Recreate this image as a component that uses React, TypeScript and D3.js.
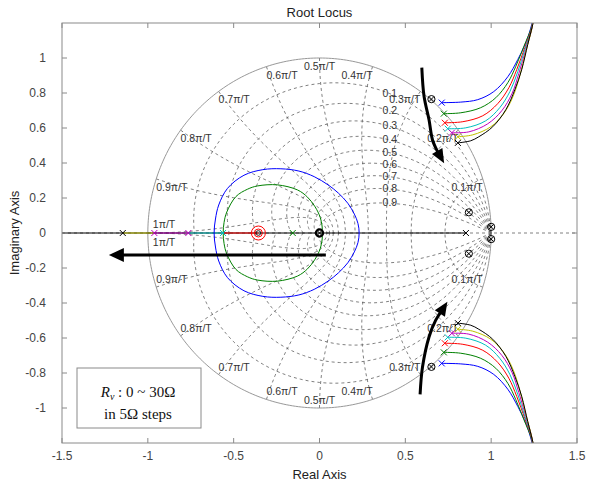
import React, { useEffect, useRef } from 'react';
import * as d3 from 'd3';

type Pt = [number, number];

const xTicks = [-1.5, -1, -0.5, 0, 0.5, 1, 1.5];
const yTicks = [-1, -0.8, -0.6, -0.4, -0.2, 0, 0.2, 0.4, 0.6, 0.8, 1];

// zgrid: damping ratios and natural frequencies (multiples of pi/T)
const zetaValues = [0.1, 0.2, 0.3, 0.4, 0.5, 0.6, 0.7, 0.8, 0.9];
const wnValues = [0.1, 0.2, 0.3, 0.4, 0.5, 0.6, 0.7, 0.8, 0.9, 1];
const wnLabels = ['0.1π/T', '0.2π/T', '0.3π/T', '0.4π/T', '0.5π/T', '0.6π/T', '0.7π/T', '0.8π/T', '0.9π/T', '1π/T'];

// Rv = 0, 5, ..., 30 ohm -> one locus each
const rvValues = [0, 5, 10, 15, 20, 25, 30];

// upper complex branches, pole first (lower half is the conjugate)
const branchRv0: Pt[] = [[0.712, 0.745], [0.823, 0.748], [0.922, 0.762], [1.015, 0.808], [1.097, 0.893], [1.155, 0.991], [1.202, 1.088], [1.236, 1.191], [1.245, 1.25]];
const branchRv5: Pt[] = [[0.724, 0.682], [0.823, 0.687], [0.939, 0.716], [1.027, 0.773], [1.097, 0.859], [1.143, 0.951], [1.19, 1.065], [1.236, 1.18], [1.247, 1.25]];
const branchRv10: Pt[] = [[0.73, 0.63], [0.835, 0.636], [0.951, 0.67], [1.038, 0.739], [1.103, 0.83], [1.149, 0.934], [1.196, 1.06], [1.236, 1.174], [1.248, 1.25]];
const branchRv15: Pt[] = [[0.747, 0.596], [0.852, 0.601], [0.968, 0.641], [1.05, 0.716], [1.109, 0.808], [1.155, 0.922], [1.196, 1.048], [1.236, 1.168], [1.249, 1.25]];
const branchRv20: Pt[] = [[0.771, 0.573], [0.87, 0.578], [0.98, 0.624], [1.062, 0.699], [1.121, 0.796], [1.161, 0.911], [1.202, 1.048], [1.236, 1.163], [1.25, 1.25]];
const branchRv25: Pt[] = [[0.806, 0.55], [0.893, 0.561], [0.998, 0.607], [1.073, 0.682], [1.127, 0.779], [1.167, 0.899], [1.202, 1.037], [1.236, 1.163], [1.252, 1.25]];
const branchRv30: Pt[] = [[0.806, 0.515], [0.881, 0.527], [0.928, 0.55], [1.009, 0.607], [1.085, 0.704], [1.138, 0.819], [1.178, 0.934], [1.213, 1.077], [1.242, 1.191], [1.255, 1.25]];
const complexBranches = [branchRv0, branchRv5, branchRv10, branchRv15, branchRv20, branchRv25, branchRv30];

// breakaway loops around the real axis (upper half, left to right)
const loopRv0: Pt[] = [[-0.614, 0], [-0.606, 0.08], [-0.587, 0.16], [-0.536, 0.255], [-0.44, 0.33], [-0.33, 0.362], [-0.225, 0.367], [-0.12, 0.354], [-0.031, 0.322], [0.05, 0.275], [0.11, 0.228], [0.165, 0.17], [0.203, 0.108], [0.224, 0.055], [0.231, 0]];
const loopRv5: Pt[] = [[-0.561, 0], [-0.556, 0.06], [-0.54, 0.12], [-0.487, 0.208], [-0.42, 0.25], [-0.361, 0.269], [-0.245, 0.275], [-0.128, 0.246], [-0.07, 0.205], [-0.026, 0.15], [0.004, 0.09], [0.015, 0.04], [0.017, 0]];
const loops: [Pt[], number][] = [[loopRv0, 0], [loopRv5, 1]];

// real-axis locus pieces: [from, to, series]
const realAxisSegments: [number, number, number][] = [
  [-1.5, 0.853, 6],
  [-1.146, -0.962, 5],
  [-0.962, -0.764, 4],
  [-0.764, -0.562, 3],
  [-0.562, -0.356, 2],
];
// real poles: [re, series]
const realPoles: [number, number][] = [[-1.146, 6], [-0.962, 4], [-0.764, 4], [-0.562, 3], [-0.156, 1], [0.853, 6]];
// zeros (upper half, conjugates added)
const complexZeros: Pt[] = [[0.652, 0.765], [0.87, 0.118], [1.0, 0.035]];
const originZero = 0;
const redZero = -0.356;

// annotation arrows (data coords, tip last)
const arrowUpper: Pt[] = [[0.596, 0.945], [0.609, 0.781], [0.638, 0.647], [0.658, 0.533], [0.687, 0.466], [0.726, 0.399]];
const arrowLower: Pt[] = [[0.586, -0.922], [0.6, -0.766], [0.638, -0.594], [0.677, -0.498], [0.745, -0.393]];
const arrowLeft: Pt[] = [[0.037, -0.126], [-1.227, -0.126]];

const colors = ['#0000ff', '#008000', '#ff0000', '#00bfbf', '#bf00bf', '#bfbf00', '#000000'];

export default function App() {
  const ref = useRef<SVGSVGElement>(null);

  useEffect(() => {
    const svg = d3.select(ref.current);
    svg.selectAll('*').remove();

    const width = 594;
    const height = 488;
    const margin = { top: 23, right: 17, bottom: 45, left: 62 };
    const sans = 'Liberation Sans, Arial, sans-serif';

    const x = d3.scaleLinear().domain([-1.5, 1.5]).range([margin.left, width - margin.right]);
    const y = d3.scaleLinear().domain([-1.2, 1.2]).range([height - margin.bottom, margin.top]);
    const line = d3.line<Pt>().x(d => x(d[0])).y(d => y(d[1]));
    const smooth = d3.line<Pt>().x(d => x(d[0])).y(d => y(d[1])).curve(d3.curveCatmullRom);
    const conj = (pts: Pt[]): Pt[] => pts.map(([a, b]) => [a, -b]);

    svg.append('rect').attr('width', width).attr('height', height).attr('fill', '#fff');

    svg.append('defs').append('clipPath').attr('id', 'plotclip')
      .append('rect')
      .attr('x', margin.left).attr('y', margin.top)
      .attr('width', width - margin.left - margin.right)
      .attr('height', height - margin.top - margin.bottom);

    const g = svg.append('g').attr('clip-path', 'url(#plotclip)');

    // ---- zgrid ----
    const grid = g.append('g').attr('fill', 'none').attr('stroke', '#555')
      .attr('stroke-width', 0.75).attr('stroke-dasharray', '3,3');

    grid.append('path').attr('d', line([[-1.5, 0], [1.5, 0]]));

    zetaValues.forEach(z => {
      const m = z / Math.sqrt(1 - z * z);
      const pts: Pt[] = d3.range(0, 121).map(i => {
        const t = Math.PI * i / 120;
        const r = Math.exp(-m * t);
        return [r * Math.cos(t), r * Math.sin(t)];
      });
      grid.append('path').attr('d', line(pts));
      grid.append('path').attr('d', line(conj(pts)));
    });

    wnValues.forEach(f => {
      const wn = f * Math.PI;
      const pts: Pt[] = d3.range(0, 61).map(i => {
        const z = i / 60;
        const r = Math.exp(-z * wn);
        const a = wn * Math.sqrt(1 - z * z);
        return [r * Math.cos(a), r * Math.sin(a)];
      });
      grid.append('path').attr('d', line(pts));
      grid.append('path').attr('d', line(conj(pts)));
    });

    const circle: Pt[] = d3.range(0, 361).map(i => [Math.cos(i * Math.PI / 180), Math.sin(i * Math.PI / 180)]);
    g.append('path').attr('d', line(circle)).attr('fill', 'none').attr('stroke', '#8c8c8c').attr('stroke-width', 0.9);

    // grid labels
    const labels = g.append('g').attr('font-family', sans).attr('font-size', 10.5).attr('fill', '#333');
    wnValues.forEach((f, i) => {
      const a = f * Math.PI;
      const px = x(Math.cos(a));
      const anchor = f < 0.5 ? 'end' : f > 0.5 ? 'start' : 'middle';
      if (f === 1) {
        labels.append('text').attr('x', px + 5).attr('y', y(0) - 5).attr('text-anchor', 'start').text(wnLabels[i]);
        labels.append('text').attr('x', px + 5).attr('y', y(0) + 13).attr('text-anchor', 'start').text(wnLabels[i]);
        return;
      }
      labels.append('text').attr('x', px).attr('y', y(Math.sin(a)) + 12).attr('text-anchor', anchor).text(wnLabels[i]);
      labels.append('text').attr('x', px).attr('y', y(-Math.sin(a)) - 4).attr('text-anchor', anchor).text(wnLabels[i]);
    });
    zetaValues.forEach(z => {
      const m = z / Math.sqrt(1 - z * z);
      let lo = 0, hi = Math.PI / 2;
      for (let k = 0; k < 40; k++) {
        const t = (lo + hi) / 2;
        if (Math.exp(-m * t) * Math.cos(t) > 0.41) lo = t; else hi = t;
      }
      const r = Math.exp(-m * lo);
      labels.append('text')
        .attr('x', x(r * Math.cos(lo))).attr('y', y(r * Math.sin(lo)) + 3)
        .attr('text-anchor', 'middle').text(String(z));
    });

    // ---- root loci ----
    const loci = g.append('g').attr('fill', 'none').attr('stroke-width', 1);
    realAxisSegments.forEach(([a, b, s]) => {
      loci.append('path').attr('d', line([[a, 0], [b, 0]])).attr('stroke', colors[s]);
    });
    loops.forEach(([half, s]) => {
      const full = half.concat(conj(half.slice(1, -1)).reverse());
      const closed = d3.line<Pt>().x(d => x(d[0])).y(d => y(d[1])).curve(d3.curveCatmullRomClosed);
      loci.append('path').attr('d', closed(full)).attr('stroke', colors[s]);
    });
    complexBranches.forEach((pts, s) => {
      loci.append('path').attr('d', smooth(pts)).attr('stroke', colors[s]);
      loci.append('path').attr('d', smooth(conj(pts))).attr('stroke', colors[s]);
    });

    // markers
    const marks = g.append('g').attr('fill', 'none');
    const cross = (px: number, py: number, c: string, h = 3) => {
      marks.append('path')
        .attr('d', `M${px - h},${py - h}L${px + h},${py + h}M${px - h},${py + h}L${px + h},${py - h}`)
        .attr('stroke', c).attr('stroke-width', 1);
    };
    complexBranches.forEach((pts, s) => {
      cross(x(pts[0][0]), y(pts[0][1]), colors[s]);
      cross(x(pts[0][0]), y(-pts[0][1]), colors[s]);
    });
    realPoles.forEach(([re, s]) => cross(x(re), y(0), colors[s]));

    const zeroMark = (px: number, py: number, w = 1) => {
      marks.append('circle').attr('cx', px).attr('cy', py).attr('r', 3.6).attr('stroke', '#000').attr('stroke-width', w);
      cross(px, py, '#000', 2.4);
    };
    complexZeros.forEach(([a, b]) => {
      zeroMark(x(a), y(b));
      zeroMark(x(a), y(-b));
    });
    zeroMark(x(originZero), y(0), 2.2);
    marks.append('circle').attr('cx', x(redZero)).attr('cy', y(0)).attr('r', 7).attr('stroke', colors[2]).attr('stroke-width', 1);
    marks.append('circle').attr('cx', x(redZero)).attr('cy', y(0)).attr('r', 4).attr('stroke', colors[2]).attr('stroke-width', 1);
    marks.append('circle').attr('cx', x(redZero)).attr('cy', y(0)).attr('r', 2.3).attr('stroke', '#222').attr('stroke-width', 1);

    // ---- annotation arrows ----
    const arrow = (pts: Pt[], len: number, half: number) => {
      const px = pts.map(([a, b]) => [x(a), y(b)]);
      const tip = px[px.length - 1];
      const prev = px[px.length - 2];
      const dx = tip[0] - prev[0], dy = tip[1] - prev[1];
      const n = Math.hypot(dx, dy);
      const ux = dx / n, uy = dy / n;
      const bx = tip[0] - ux * len, by = tip[1] - uy * len;
      const body = pts.slice(0, -1).concat([[x.invert(bx + ux * 3), y.invert(by + uy * 3)]]);
      const path = pts.length > 2 ? smooth(body) : line(body);
      g.append('path').attr('d', path).attr('fill', 'none').attr('stroke', '#000').attr('stroke-width', 3);
      g.append('path')
        .attr('d', `M${tip[0]},${tip[1]}L${bx - uy * half},${by + ux * half}L${bx + uy * half},${by - ux * half}Z`)
        .attr('fill', '#000');
    };
    arrow(arrowUpper, 14, 6);
    arrow(arrowLower, 14, 6);
    arrow(arrowLeft, 15, 7);

    // ---- legend box ----
    const lg = svg.append('g');
    lg.append('rect').attr('x', 77).attr('y', 368).attr('width', 124).attr('height', 60)
      .attr('fill', '#fff').attr('stroke', '#8a8a8a').attr('stroke-width', 1);
    const t1 = lg.append('text').attr('x', 138).attr('y', 397).attr('text-anchor', 'middle')
      .attr('font-family', 'Liberation Serif, Times New Roman, serif').attr('font-size', 15).attr('fill', '#111');
    t1.append('tspan').attr('font-style', 'italic').text('R');
    t1.append('tspan').attr('font-style', 'italic').attr('font-size', 10).attr('dy', 3).text('v');
    t1.append('tspan').attr('dy', -3).text(` : ${rvValues[0]} ~ ${rvValues[rvValues.length - 1]}Ω`);
    lg.append('text').attr('x', 138).attr('y', 419).attr('text-anchor', 'middle')
      .attr('font-family', 'Liberation Serif, Times New Roman, serif').attr('font-size', 15).attr('fill', '#111')
      .text(`in ${rvValues[1] - rvValues[0]}Ω steps`);

    // ---- axes ----
    const ax = svg.append('g');
    const [x0, x1] = x.range();
    const [y0, y1] = y.range();
    ax.append('rect').attr('x', x0).attr('y', y1).attr('width', x1 - x0).attr('height', y0 - y1)
      .attr('fill', 'none').attr('stroke', '#8a8a8a').attr('stroke-width', 1);
    xTicks.forEach(v => {
      ax.append('path').attr('d', `M${x(v)},${y0}V${y0 - 5}M${x(v)},${y1}V${y1 + 5}`).attr('stroke', '#8a8a8a');
      ax.append('text').attr('x', x(v)).attr('y', y0 + 17).attr('text-anchor', 'middle')
        .attr('font-family', sans).attr('font-size', 12).attr('fill', '#444').text(String(v));
    });
    yTicks.forEach(v => {
      ax.append('path').attr('d', `M${x0},${y(v)}H${x0 + 5}M${x1},${y(v)}H${x1 - 5}`).attr('stroke', '#8a8a8a');
      ax.append('text').attr('x', x0 - 16).attr('y', y(v) + 4).attr('text-anchor', 'end')
        .attr('font-family', sans).attr('font-size', 12).attr('fill', '#444').text(String(v));
    });

    svg.append('text').attr('x', (x0 + x1) / 2).attr('y', 17).attr('text-anchor', 'middle')
      .attr('font-family', sans).attr('font-size', 13).attr('fill', '#222').text('Root Locus');
    svg.append('text').attr('x', (x0 + x1) / 2).attr('y', 479).attr('text-anchor', 'middle')
      .attr('font-family', sans).attr('font-size', 13).attr('fill', '#222').text('Real Axis');
    svg.append('text').attr('transform', `translate(19,${(y0 + y1) / 2}) rotate(-90)`).attr('text-anchor', 'middle')
      .attr('font-family', sans).attr('font-size', 13).attr('fill', '#222').text('Imaginary Axis');
  }, []);

  return (
    <svg ref={ref} width={594} height={488} style={{ position: 'absolute', left: 0, top: 0, display: 'block' }} />
  );
}
